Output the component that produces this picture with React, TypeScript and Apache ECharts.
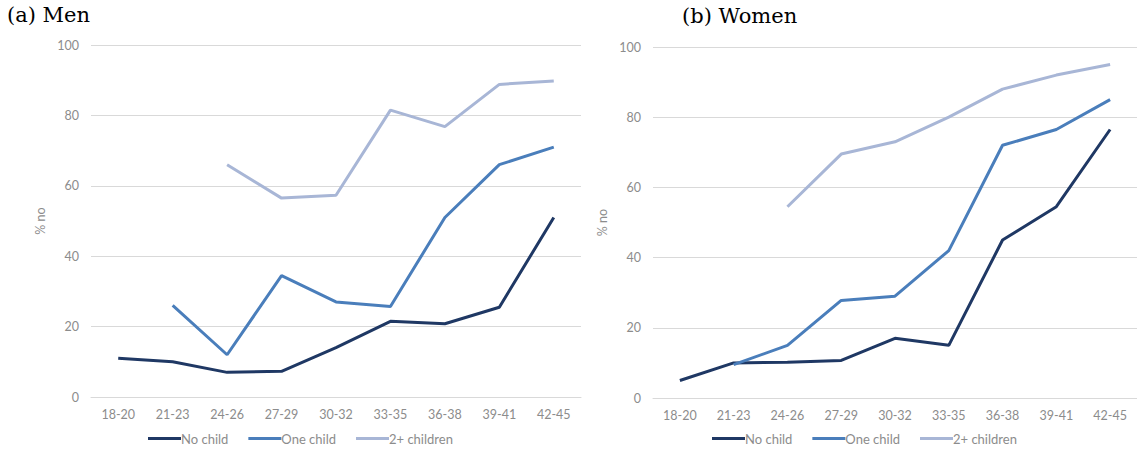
import React, { useEffect, useRef } from "react";
import * as echarts from "echarts";

const categories = ["18-20", "21-23", "24-26", "27-29", "30-32", "33-35", "36-38", "39-41", "42-45"];
const seriesNames = ["No child", "One child", "2+ children"];
const colors = ["#1f3864", "#4a7ebb", "#a8b6d6"];

const menNoChild = [11, 10, 7, 7.3, 14, 21.5, 20.8, 25.5, 51];
const menOneChild = [null, 26, 12, 34.5, 27, 25.7, 51, 66, 71];
const menTwoPlus = [null, null, 66, 56.5, 57.3, 81.5, 76.8, 88.8, 89.8];

const womenNoChild = [5, 10, 10.2, 10.7, 17, 15, 45, 54.5, 76.5];
const womenOneChild = [null, 9.5, 15, 27.8, 29, 42, 72, 76.5, 85];
const womenTwoPlus = [null, null, 54.5, 69.5, 73, 80, 88, 92, 95];

const yTicks = { min: 0, max: 100, interval: 20 };

export default function App() {
  const ref = useRef<HTMLDivElement>(null);
  useEffect(() => {
    if (!ref.current) return;
    const chart = echarts.init(ref.current, null, { renderer: "svg" });
    const tickFont = { color: "#8c8c8c", fontSize: 12.5, fontFamily: "Lato" };
    const mkX = (gi: number) => ({
      type: "category",
      gridIndex: gi,
      data: categories,
      boundaryGap: true,
      axisLine: { show: true, lineStyle: { color: "#d9d9d9" } },
      axisTick: { show: false },
      axisLabel: { ...tickFont, margin: 11, interval: 0 },
    });
    const mkY = (gi: number) => ({
      type: "value",
      gridIndex: gi,
      min: yTicks.min,
      max: yTicks.max,
      interval: yTicks.interval,
      name: "% no",
      nameLocation: "middle",
      nameGap: 44,
      nameTextStyle: { color: "#8c8c8c", fontSize: 12.5, fontFamily: "Lato" },
      axisLine: { show: false },
      axisTick: { show: false },
      splitLine: { lineStyle: { color: "#d9d9d9", width: 1 } },
      axisLabel: { ...tickFont, margin: 12 },
    });
    const mkS = (name: string, data: (number | null)[], gi: number, ci: number) => ({
      type: "line",
      name,
      xAxisIndex: gi,
      yAxisIndex: gi,
      data,
      showSymbol: false,
      symbol: "none",
      connectNulls: false,
      lineStyle: { color: colors[ci], width: 3 },
      itemStyle: { color: colors[ci] },
    });
    const legendBase = {
      data: seriesNames,
      icon: "rect",
      itemWidth: 33,
      itemHeight: 3,
      itemGap: 20,
      textStyle: { color: "#8c8c8c", fontSize: 13, fontFamily: "Lato", padding: [0, 0, 0, -5] },
      top: 427,
    };
    const titleStyle = { fontFamily: "DejaVu Serif", fontWeight: "normal", fontSize: 21, color: "#000" };
    chart.setOption({
      animation: false,
      backgroundColor: "#ffffff",
      title: [
        { text: "(a) Men", left: 7, top: 4, padding: 0, textStyle: titleStyle },
        { text: "(b) Women", left: 682, top: 5, padding: 0, textStyle: titleStyle },
      ],
      legend: [
        { ...legendBase, left: 143 },
        { ...legendBase, left: 707 },
      ],
      grid: [
        { left: 91, width: 490, top: 45, height: 352 },
        { left: 653, width: 484, top: 47, height: 351 },
      ],
      xAxis: [mkX(0), mkX(1)],
      yAxis: [mkY(0), mkY(1)],
      series: [
        mkS(seriesNames[0], menNoChild, 0, 0),
        mkS(seriesNames[1], menOneChild, 0, 1),
        mkS(seriesNames[2], menTwoPlus, 0, 2),
        mkS(seriesNames[0], womenNoChild, 1, 0),
        mkS(seriesNames[1], womenOneChild, 1, 1),
        mkS(seriesNames[2], womenTwoPlus, 1, 2),
      ],
    });
    return () => chart.dispose();
  }, []);
  return <div ref={ref} style={{ width: 1137, height: 456, position: "absolute", left: 0, top: 0 }} />;
}
